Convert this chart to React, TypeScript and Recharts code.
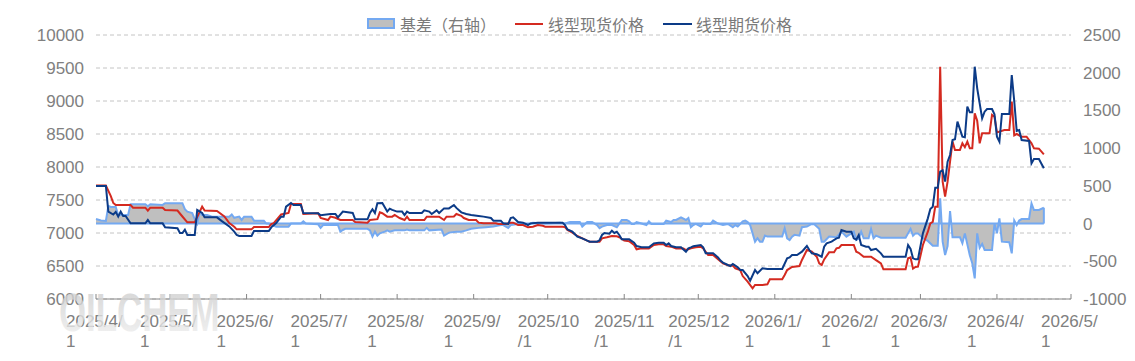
import React from "react";
import {
  ComposedChart,
  Line,
  Area,
  XAxis,
  YAxis,
  CartesianGrid,
  Legend,
  ReferenceLine,
} from "recharts";

const FONT = '"Noto Sans CJK SC", "Noto Sans", sans-serif';
const TICK_FONT = '"Liberation Sans", Arial, sans-serif';

// ---------- series: 线型期货价格 (futures) ----------
const futuresDates = [
  "2025-04-01","2025-04-05","2025-04-06","2025-04-08","2025-04-09","2025-04-10","2025-04-11","2025-04-12","2025-04-13","2025-04-15",
  "2025-04-21","2025-04-22","2025-04-23","2025-04-28","2025-04-29","2025-05-04","2025-05-05","2025-05-06","2025-05-07","2025-05-08",
  "2025-05-11","2025-05-12","2025-05-14","2025-05-15","2025-05-20","2025-05-22","2025-05-25","2025-05-27","2025-05-28","2025-05-29",
  "2025-06-03","2025-06-04","2025-06-10","2025-06-11","2025-06-13","2025-06-15","2025-06-16","2025-06-17","2025-06-19","2025-06-20",
  "2025-06-23","2025-06-24","2025-06-30","2025-07-01","2025-07-05","2025-07-07","2025-07-08","2025-07-10","2025-07-14","2025-07-15",
  "2025-07-20","2025-07-21","2025-07-22","2025-07-23","2025-07-24","2025-07-26","2025-07-28","2025-07-29","2025-07-30","2025-08-01",
  "2025-08-03","2025-08-04","2025-08-05","2025-08-06","2025-08-11","2025-08-12","2025-08-14","2025-08-15","2025-08-17","2025-08-18",
  "2025-08-20","2025-08-22","2025-08-24","2025-08-25","2025-08-27","2025-08-29","2025-08-31","2025-09-03","2025-09-05","2025-09-08",
  "2025-09-09","2025-09-12","2025-09-13","2025-09-15","2025-09-16","2025-09-17","2025-09-19","2025-09-21","2025-09-23","2025-09-24",
  "2025-09-27","2025-10-07","2025-10-08","2025-10-09","2025-10-11","2025-10-13","2025-10-15","2025-10-17","2025-10-18","2025-10-21",
  "2025-10-22","2025-10-23","2025-10-24","2025-10-26","2025-10-27","2025-10-28","2025-10-29","2025-10-30","2025-10-31","2025-11-03",
  "2025-11-05","2025-11-06","2025-11-08","2025-11-11","2025-11-13","2025-11-15","2025-11-17","2025-11-18","2025-11-19","2025-11-20",
  "2025-11-22","2025-11-24","2025-11-26","2025-11-27","2025-11-28","2025-11-29","2025-12-02","2025-12-03","2025-12-04","2025-12-07",
  "2025-12-09","2025-12-10","2025-12-11","2025-12-13","2025-12-14","2025-12-15","2025-12-17","2025-12-18","2025-12-19","2025-12-21",
  "2025-12-22","2025-12-24","2025-12-25","2025-12-27","2025-12-29","2026-01-04","2026-01-06","2026-01-07","2026-01-08","2026-01-10",
  "2026-01-12","2026-01-14","2026-01-15","2026-01-16","2026-01-18","2026-01-20","2026-01-21","2026-01-22","2026-01-24","2026-01-26",
  "2026-01-27","2026-01-28","2026-01-30","2026-02-01","2026-02-02","2026-02-03","2026-02-04","2026-02-05","2026-02-07","2026-02-08",
  "2026-02-09","2026-02-11","2026-02-13","2026-02-14","2026-02-23","2026-02-24","2026-02-25","2026-02-26","2026-02-27","2026-02-28",
  "2026-03-02","2026-03-04","2026-03-05","2026-03-06","2026-03-07","2026-03-08","2026-03-09","2026-03-10","2026-03-11","2026-03-12",
  "2026-03-13","2026-03-14","2026-03-15","2026-03-16","2026-03-18","2026-03-19","2026-03-20","2026-03-21","2026-03-22","2026-03-23",
  "2026-03-24","2026-03-25","2026-03-26","2026-03-27","2026-03-28","2026-03-30","2026-03-31","2026-04-01","2026-04-02","2026-04-03",
  "2026-04-06","2026-04-07","2026-04-08","2026-04-09","2026-04-10","2026-04-11","2026-04-14","2026-04-15","2026-04-16","2026-04-18",
  "2026-04-20",
];
const futuresValues = [
  7712,7712,7324,7280,7320,7248,7324,7257,7257,7146,
  7146,7197,7146,7146,7086,7071,7000,7000,7050,6970,
  6970,7348,7303,7237,7237,7180,7100,7020,6970,6955,
  6955,7030,7030,7086,7150,7248,7248,7399,7455,7424,
  7424,7303,7298,7270,7288,7288,7237,7324,7303,7207,
  7207,7303,7359,7303,7450,7455,7324,7368,7350,7324,
  7324,7273,7324,7303,7303,7343,7324,7288,7343,7303,
  7373,7373,7424,7380,7313,7288,7273,7258,7248,7227,
  7187,7187,7146,7136,7227,7237,7167,7156,7121,7146,
  7157,7157,7121,7055,7020,6945,6919,6884,6869,6869,
  6890,6970,7000,6990,7035,7000,7020,6970,6904,6904,
  6853,6803,6783,6783,6843,6853,6853,6818,6843,6803,
  6783,6783,6717,6767,6783,6800,6818,6783,6692,6692,
  6631,6581,6551,6515,6500,6530,6480,6439,6439,6348,
  6277,6439,6389,6465,6455,6455,6616,6630,6667,6667,
  6717,6803,6742,6692,6677,6641,6793,6843,6869,6919,
  6930,7045,7020,7020,6919,6900,6970,6818,6793,6793,
  6742,6760,6692,6641,6641,6818,6760,6616,6601,6601,
  6995,7222,7364,7399,7687,7687,7929,7950,7778,8081,
  8182,8409,8420,8687,8460,8450,8914,8828,8828,9520,
  9192,8965,8737,8838,8879,8879,8800,8460,8384,8803,
  8803,9394,9000,8546,8560,8409,8394,8056,8121,8121,
  7980,
];

// ---------- series: 线型现货价格 (spot) ----------
const spotDates = [
  "2025-04-01","2025-04-05","2025-04-07","2025-04-08","2025-04-09","2025-04-15","2025-04-16","2025-04-21","2025-04-22","2025-04-23",
  "2025-04-28","2025-04-29","2025-05-04","2025-05-06","2025-05-08","2025-05-11","2025-05-14","2025-05-15","2025-05-20","2025-05-23",
  "2025-05-25","2025-05-27","2025-05-28","2025-06-03","2025-06-04","2025-06-10","2025-06-11","2025-06-12","2025-06-15","2025-06-18",
  "2025-06-19","2025-06-23","2025-06-24","2025-06-30","2025-07-01","2025-07-04","2025-07-05","2025-07-07","2025-07-09","2025-07-14",
  "2025-07-15","2025-07-20","2025-07-21","2025-07-24","2025-07-25","2025-07-26","2025-07-28","2025-07-30","2025-07-31","2025-08-02",
  "2025-08-04","2025-08-05","2025-08-06","2025-08-12","2025-08-13","2025-08-18","2025-08-20","2025-08-21","2025-08-24","2025-08-25",
  "2025-08-27","2025-08-28","2025-08-30","2025-09-02","2025-09-03","2025-09-05","2025-09-10","2025-09-11","2025-09-14","2025-09-16",
  "2025-09-17","2025-09-19","2025-09-21","2025-09-23","2025-09-25","2025-09-27","2025-09-29","2025-09-30","2025-10-07","2025-10-08",
  "2025-10-09","2025-10-11","2025-10-13","2025-10-15","2025-10-17","2025-10-18","2025-10-22","2025-10-23","2025-10-25","2025-10-27",
  "2025-10-29","2025-10-30","2025-11-01","2025-11-03","2025-11-05","2025-11-06","2025-11-08","2025-11-11","2025-11-13","2025-11-15",
  "2025-11-17","2025-11-18","2025-11-20","2025-11-22","2025-11-25","2025-11-26","2025-11-28","2025-11-30","2025-12-02","2025-12-03",
  "2025-12-05","2025-12-07","2025-12-09","2025-12-11","2025-12-13","2025-12-15","2025-12-16","2025-12-18","2025-12-19","2025-12-21",
  "2025-12-23","2025-12-24","2025-12-27","2025-12-29","2025-12-30","2026-01-04","2026-01-05","2026-01-06","2026-01-08","2026-01-11",
  "2026-01-12","2026-01-14","2026-01-15","2026-01-16","2026-01-18","2026-01-19","2026-01-20","2026-01-21","2026-01-23","2026-01-25",
  "2026-01-26","2026-01-27","2026-01-28","2026-02-02","2026-02-03","2026-02-04","2026-02-06","2026-02-09","2026-02-11","2026-02-13",
  "2026-02-14","2026-02-23","2026-02-24","2026-02-25","2026-02-26","2026-02-27","2026-02-28","2026-03-02","2026-03-04","2026-03-05",
  "2026-03-06","2026-03-07","2026-03-08","2026-03-09","2026-03-10","2026-03-11","2026-03-12","2026-03-13","2026-03-14","2026-03-15",
  "2026-03-17","2026-03-18","2026-03-19","2026-03-20","2026-03-21","2026-03-22","2026-03-23","2026-03-24","2026-03-25","2026-03-26",
  "2026-03-29","2026-03-30","2026-03-31","2026-04-01","2026-04-04","2026-04-06","2026-04-07","2026-04-08","2026-04-09","2026-04-11",
  "2026-04-13","2026-04-15","2026-04-16","2026-04-18","2026-04-20",
];
const spotValues = [
  7720,7720,7560,7455,7424,7424,7383,7383,7338,7383,
  7383,7348,7340,7250,7162,7162,7399,7340,7333,7250,
  7150,7095,7055,7055,7090,7090,7136,7150,7280,7303,
  7440,7440,7288,7298,7227,7197,7248,7230,7197,7197,
  7167,7156,7197,7210,7313,7300,7248,7248,7273,7227,
  7197,7248,7197,7197,7248,7248,7197,7248,7250,7288,
  7260,7227,7197,7197,7157,7146,7146,7136,7136,7156,
  7156,7121,7121,7086,7095,7121,7110,7096,7096,7090,
  7045,7005,6955,6919,6884,6869,6869,6919,6935,6955,
  6950,6935,6884,6875,6818,6753,6767,6767,6818,6828,
  6828,6803,6793,6767,6767,6742,6767,6783,6793,6767,
  6667,6667,6601,6540,6510,6505,6465,6439,6348,6262,
  6162,6212,6212,6222,6298,6298,6364,6439,6485,6500,
  6591,6742,6730,6717,6640,6540,6515,6600,6707,6707,
  6768,6775,6818,6818,6717,6700,6641,6641,6590,6540,
  6450,6450,6616,6630,6460,6485,6490,6818,7020,7146,
  7170,7399,7399,9520,7778,7551,7778,8080,8384,8258,
  8258,8359,8300,8384,8283,8283,8813,8700,8359,8510,
  8510,8790,8760,8525,8560,8560,8990,8480,8500,8460,
  8460,8359,8283,8278,8192,
];

// ---------- series: 基差（右轴） (basis) ----------
const basisDates = [
  "2025-04-01","2025-04-03","2025-04-05","2025-04-06","2025-04-07","2025-04-09","2025-04-10","2025-04-14","2025-04-15","2025-04-21",
  "2025-04-22","2025-04-23","2025-04-28","2025-04-29","2025-05-06","2025-05-07","2025-05-08","2025-05-10","2025-05-11","2025-05-12",
  "2025-05-13","2025-05-14","2025-05-16","2025-05-18","2025-05-25","2025-05-26","2025-05-27","2025-05-29","2025-05-30","2025-05-31",
  "2025-06-03","2025-06-04","2025-06-08","2025-06-09","2025-06-10","2025-06-11","2025-06-13","2025-06-18","2025-06-19","2025-06-23",
  "2025-06-24","2025-06-25","2025-06-30","2025-07-01","2025-07-02","2025-07-08","2025-07-09","2025-07-10","2025-07-11","2025-07-20",
  "2025-07-21","2025-07-22","2025-07-23","2025-07-24","2025-07-25","2025-07-27","2025-07-28","2025-07-29","2025-07-31","2025-08-04",
  "2025-08-05","2025-08-06","2025-08-12","2025-08-13","2025-08-14","2025-08-19","2025-08-20","2025-08-22","2025-08-25","2025-08-27",
  "2025-08-29","2025-08-31","2025-09-03","2025-09-06","2025-09-09","2025-09-12","2025-09-13","2025-09-15","2025-09-16","2025-09-19",
  "2025-09-24","2025-09-25","2025-09-30","2025-10-06","2025-10-08","2025-10-10","2025-10-14","2025-10-15","2025-10-17","2025-10-19",
  "2025-10-21","2025-10-22","2025-10-23","2025-10-25","2025-10-27","2025-10-29","2025-10-30","2025-10-31","2025-11-02","2025-11-03",
  "2025-11-04","2025-11-05","2025-11-06","2025-11-08","2025-11-10","2025-11-11","2025-11-12","2025-11-17","2025-11-18","2025-11-20",
  "2025-11-21","2025-11-22","2025-11-24","2025-11-26","2025-11-27","2025-11-28","2025-11-29","2025-11-30","2025-12-02","2025-12-03",
  "2025-12-04","2025-12-06","2025-12-07","2025-12-09","2025-12-11","2025-12-13","2025-12-15","2025-12-16","2025-12-17","2025-12-19",
  "2025-12-20","2025-12-21","2025-12-22","2025-12-23","2025-12-24","2025-12-25","2025-12-26","2025-12-27","2025-12-28","2025-12-29",
  "2026-01-04","2026-01-05","2026-01-06","2026-01-07","2026-01-08","2026-01-09","2026-01-11","2026-01-12","2026-01-14","2026-01-16",
  "2026-01-17","2026-01-18","2026-01-19","2026-01-20","2026-01-21","2026-01-23","2026-01-26","2026-01-28","2026-01-30","2026-02-02",
  "2026-02-03","2026-02-04","2026-02-05","2026-02-06","2026-02-08","2026-02-09","2026-02-10","2026-02-11","2026-02-13","2026-02-23",
  "2026-02-25","2026-02-26","2026-02-27","2026-02-28","2026-03-02","2026-03-04","2026-03-06","2026-03-08","2026-03-09","2026-03-10",
  "2026-03-11","2026-03-12","2026-03-13","2026-03-14","2026-03-17","2026-03-18","2026-03-19","2026-03-21","2026-03-22","2026-03-23",
  "2026-03-24","2026-03-25","2026-03-26","2026-03-27","2026-03-30","2026-03-31","2026-04-01","2026-04-02","2026-04-03","2026-04-06",
  "2026-04-07","2026-04-08","2026-04-09","2026-04-10","2026-04-11","2026-04-14","2026-04-15","2026-04-16","2026-04-18","2026-04-20",
];
const basisValues = [
  60,40,35,233,220,220,114,114,256,256,
  230,256,247,270,270,190,158,140,60,0,
  158,114,114,92,92,121,77,92,48,92,
  92,39,39,0,0,-18,-41,-41,0,0,
  30,0,-10,-58,-20,-18,-107,-85,-70,-70,
  -90,-173,-107,-160,-130,-107,-90,-107,-90,-90,
  -80,-90,-90,-57,-90,-80,-160,-120,-107,-107,
  -90,-70,-57,-48,-40,-20,-20,-57,-20,-5,
  -5,10,0,10,0,20,20,-40,20,20,
  -20,-60,-40,-20,-20,-48,0,48,48,30,
  -5,-5,20,0,-20,30,-5,-5,39,20,
  48,48,83,48,75,-48,-20,-5,-40,0,
  -5,-5,39,0,-20,-5,-48,-20,-40,30,
  39,20,-20,-130,-240,-195,-240,-240,-160,-173,
  -173,-63,-195,-218,-173,-150,-160,-48,-40,-5,
  -10,-40,-70,-240,-240,-173,-180,-107,-173,-107,
  -218,-200,-107,-195,-195,-70,-195,-160,-187,-187,
  -70,-160,-130,-130,-195,-230,-293,-293,335,-240,
  -416,-300,167,-180,-180,-260,-130,-420,-527,-726,
  -130,-320,-270,-350,-350,0,-130,70,-240,-248,
  -395,40,-20,40,60,60,268,180,180,210,
];

// ---------- axes ----------
const xTickDates = [
  "2025-04-01","2025-05-01","2025-06-01","2025-07-01","2025-08-01","2025-09-01","2025-10-01",
  "2025-11-01","2025-12-01","2026-01-01","2026-02-01","2026-03-01","2026-04-01","2026-05-01",
];
const leftTicks = [6000, 6500, 7000, 7500, 8000, 8500, 9000, 9500, 10000];
const rightTicks = [-1000, -500, 0, 500, 1000, 1500, 2000, 2500];

const SPOT_COLOR = "#d42a20";
const FUT_COLOR = "#0c3b87";
const BASIS_STROKE = "#74a9f1";
const BASIS_FILL = "#bfbfbf";
const TEXT_COLOR = "#808080";

const toT = (s: string) => Date.parse(s + "T00:00:00Z");

const rowMap = new Map<number, any>();
function addSeries(dates: string[], values: number[], key: string) {
  dates.forEach((d, i) => {
    const t = toT(d);
    const row = rowMap.get(t) ?? { t };
    row[key] = values[i];
    rowMap.set(t, row);
  });
}
addSeries(basisDates, basisValues, "basis");
addSeries(spotDates, spotValues, "spot");
addSeries(futuresDates, futuresValues, "futures");
const chartData = Array.from(rowMap.values()).sort((a, b) => a.t - b.t);

const xTicks = xTickDates.map(toT);
const basisFirstT = toT(basisDates[0]);
const basisLastT = toT(basisDates[basisDates.length - 1]);
const basisLast = basisValues[basisValues.length - 1];

const fmtDate = (t: number) => {
  const d = new Date(t);
  return `${d.getUTCFullYear()}/${d.getUTCMonth() + 1}/${d.getUTCDate()}`;
};

const XTick = (props: any) => {
  const { x, y, payload } = props;
  const label = fmtDate(payload.value);
  const l1 = label.slice(0, 7);
  const l2 = label.slice(7);
  return (
    <g>
      <line x1={x} x2={x} y1={y - 5} y2={y} stroke="#868686" strokeWidth={1} />
      <text x={x - 30} y={y + 28} fill={TEXT_COLOR} fontSize={17} fontFamily={TICK_FONT} textAnchor="start">
        <tspan x={x - 30}>{l1}</tspan>
        <tspan x={x - 30} dy={19.5}>{l2}</tspan>
      </text>
    </g>
  );
};

const legendText: React.CSSProperties = {
  position: "absolute",
  top: 13,
  lineHeight: "22px",
  fontSize: 16,
  fontFamily: FONT,
  color: "#7a7a7a",
  whiteSpace: "nowrap",
};

const renderLegend = () => (
  <div style={{ position: "relative", width: 1135, height: 34 }}>
    <div
      style={{
        position: "absolute",
        left: 367,
        top: 18,
        width: 28,
        height: 11,
        boxSizing: "border-box",
        background: BASIS_FILL,
        border: `2px solid ${BASIS_STROKE}`,
      }}
    />
    <span style={{ ...legendText, left: 400 }}>基差（右轴）</span>
    <div style={{ position: "absolute", left: 515, top: 23, width: 28, height: 2, background: SPOT_COLOR }} />
    <span style={{ ...legendText, left: 548 }}>线型现货价格</span>
    <div style={{ position: "absolute", left: 663, top: 23, width: 29, height: 2, background: FUT_COLOR }} />
    <span style={{ ...legendText, left: 696 }}>线型期货价格</span>
  </div>
);

export default function App() {
  return (
    <div style={{ position: "absolute", left: 0, top: 0, width: 1135, height: 361, background: "#fff" }}>
      <ComposedChart
        width={1135}
        height={361}
        data={chartData}
        margin={{ top: 35, right: 0, bottom: 0, left: 0 }}
        style={{ fontFamily: FONT }}
      >
        <CartesianGrid
          yAxisId="left"
          horizontal={true}
          vertical={false}
          stroke="#c4c4c4"
          strokeDasharray="4 3"
        />
        <XAxis
          dataKey="t"
          type="number"
          domain={[xTicks[0], xTicks[xTicks.length - 1]]}
          ticks={xTicks}
          interval={0}
          height={62}
          tickSize={0}
          tickMargin={0}
          tickLine={false}
          axisLine={{ stroke: "#868686", strokeWidth: 1 }}
          tick={<XTick />}
        />
        <YAxis
          yAxisId="left"
          orientation="left"
          domain={[6000, 10000]}
          ticks={leftTicks}
          interval={0}
          width={96}
          axisLine={false}
          tickLine={false}
          tickSize={0}
          tickMargin={12}
          tick={{ fill: TEXT_COLOR, fontSize: 17, fontFamily: TICK_FONT }}
        />
        <YAxis
          yAxisId="right"
          orientation="right"
          domain={[-1000, 2500]}
          ticks={rightTicks}
          interval={0}
          width={64}
          axisLine={false}
          tickLine={false}
          tickSize={0}
          tickMargin={12}
          tick={{ fill: TEXT_COLOR, fontSize: 17, fontFamily: TICK_FONT }}
        />
        <Legend
          verticalAlign="middle"
          align="center"
          layout="horizontal"
          wrapperStyle={{ top: 0, left: 0, width: 1135 }}
          content={renderLegend}
        />
        <Area
          yAxisId="right"
          type="linear"
          dataKey="basis"
          name="基差（右轴）"
          fill={BASIS_FILL}
          fillOpacity={1}
          stroke={BASIS_STROKE}
          strokeWidth={2}
          connectNulls
          dot={false}
          activeDot={false}
          isAnimationActive={false}
        />
        <ReferenceLine
          yAxisId="right"
          segment={[
            { x: basisFirstT, y: 0 },
            { x: basisLastT, y: 0 },
          ]}
          stroke={BASIS_STROKE}
          strokeWidth={2}
        />
        <ReferenceLine
          yAxisId="right"
          segment={[
            { x: basisLastT, y: 0 },
            { x: basisLastT, y: basisLast },
          ]}
          stroke={BASIS_STROKE}
          strokeWidth={2}
        />
        <Line
          yAxisId="left"
          type="linear"
          dataKey="spot"
          name="线型现货价格"
          stroke={SPOT_COLOR}
          strokeWidth={2}
          connectNulls
          dot={false}
          activeDot={false}
          isAnimationActive={false}
        />
        <Line
          yAxisId="left"
          type="linear"
          dataKey="futures"
          name="线型期货价格"
          stroke={FUT_COLOR}
          strokeWidth={2}
          connectNulls
          dot={false}
          activeDot={false}
          isAnimationActive={false}
        />
      </ComposedChart>
      <svg
        width={320}
        height={80}
        style={{ position: "absolute", left: 50, top: 270, pointerEvents: "none" }}
      >
        <defs>
          <linearGradient id="wm" x1="0" y1="0" x2="0" y2="1">
            <stop offset="0%" stopColor="#c9c9c9" />
            <stop offset="100%" stopColor="#f2f2f2" />
          </linearGradient>
        </defs>
        <g transform="translate(9,61) scale(0.645,1)">
          <text
            x={0}
            y={0}
            fontSize={54}
            fontWeight="bold"
            fontFamily='"Liberation Sans", Arial, sans-serif'
            fill="url(#wm)"
            opacity={0.8}
          >
            OILCHEM
          </text>
        </g>
      </svg>
    </div>
  );
}
